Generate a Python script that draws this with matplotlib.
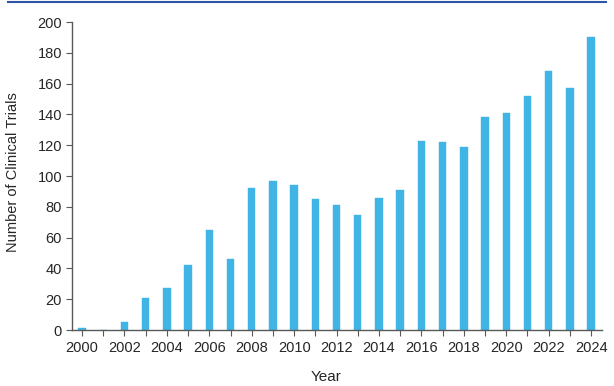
import matplotlib
matplotlib.use("Agg")
import matplotlib.pyplot as plt
from matplotlib.lines import Line2D

plt.rcParams['font.family'] = ['Liberation Sans', 'DejaVu Sans']

years = list(range(2000, 2025))
trials = [1, 0, 5, 21, 27, 42, 65, 46, 92, 97, 94, 85, 81, 75, 86, 91,
          123, 122, 119, 138, 141, 152, 168, 157, 190]
xtick_years = list(range(2000, 2025, 2))
ytick_vals = list(range(0, 201, 20))

fig = plt.figure(figsize=(6.14, 3.86), dpi=100)
ax = fig.add_axes([0.117, 0.145, 0.863, 0.798])
ax.bar(years, trials, width=0.35, color='#41B4E6', edgecolor='#41B4E6', linewidth=0.3)
ax.set_xlim(1999.52, 2024.5)
ax.set_ylim(0, 200)
ax.set_xticks(years)
ax.set_xticklabels([str(y) if y in xtick_years else '' for y in years])
ax.set_yticks(ytick_vals)
for s in ['top', 'right']:
    ax.spines[s].set_visible(False)
for s in ['left', 'bottom']:
    ax.spines[s].set_color('#595959')
    ax.spines[s].set_linewidth(1.0)
ax.tick_params(axis='both', colors='#595959', labelcolor='#262626', labelsize=10.5, length=4)
ax.tick_params(axis='x', pad=4)
ax.tick_params(axis='y', pad=3)
ax.set_xlabel('Year', fontsize=11, color='#262626')
ax.set_ylabel('Number of Clinical Trials', fontsize=10.5, color='#262626')
ax.xaxis.set_label_coords(0.479, -0.13)
ax.yaxis.set_label_coords(-0.098, 0.513)

fig.add_artist(Line2D([8/614, 606/614], [1 - 1.5/386, 1 - 1.5/386], color='#2E55A5', linewidth=1.5, transform=fig.transFigure))

fig.savefig('out.png', dpi=100)
